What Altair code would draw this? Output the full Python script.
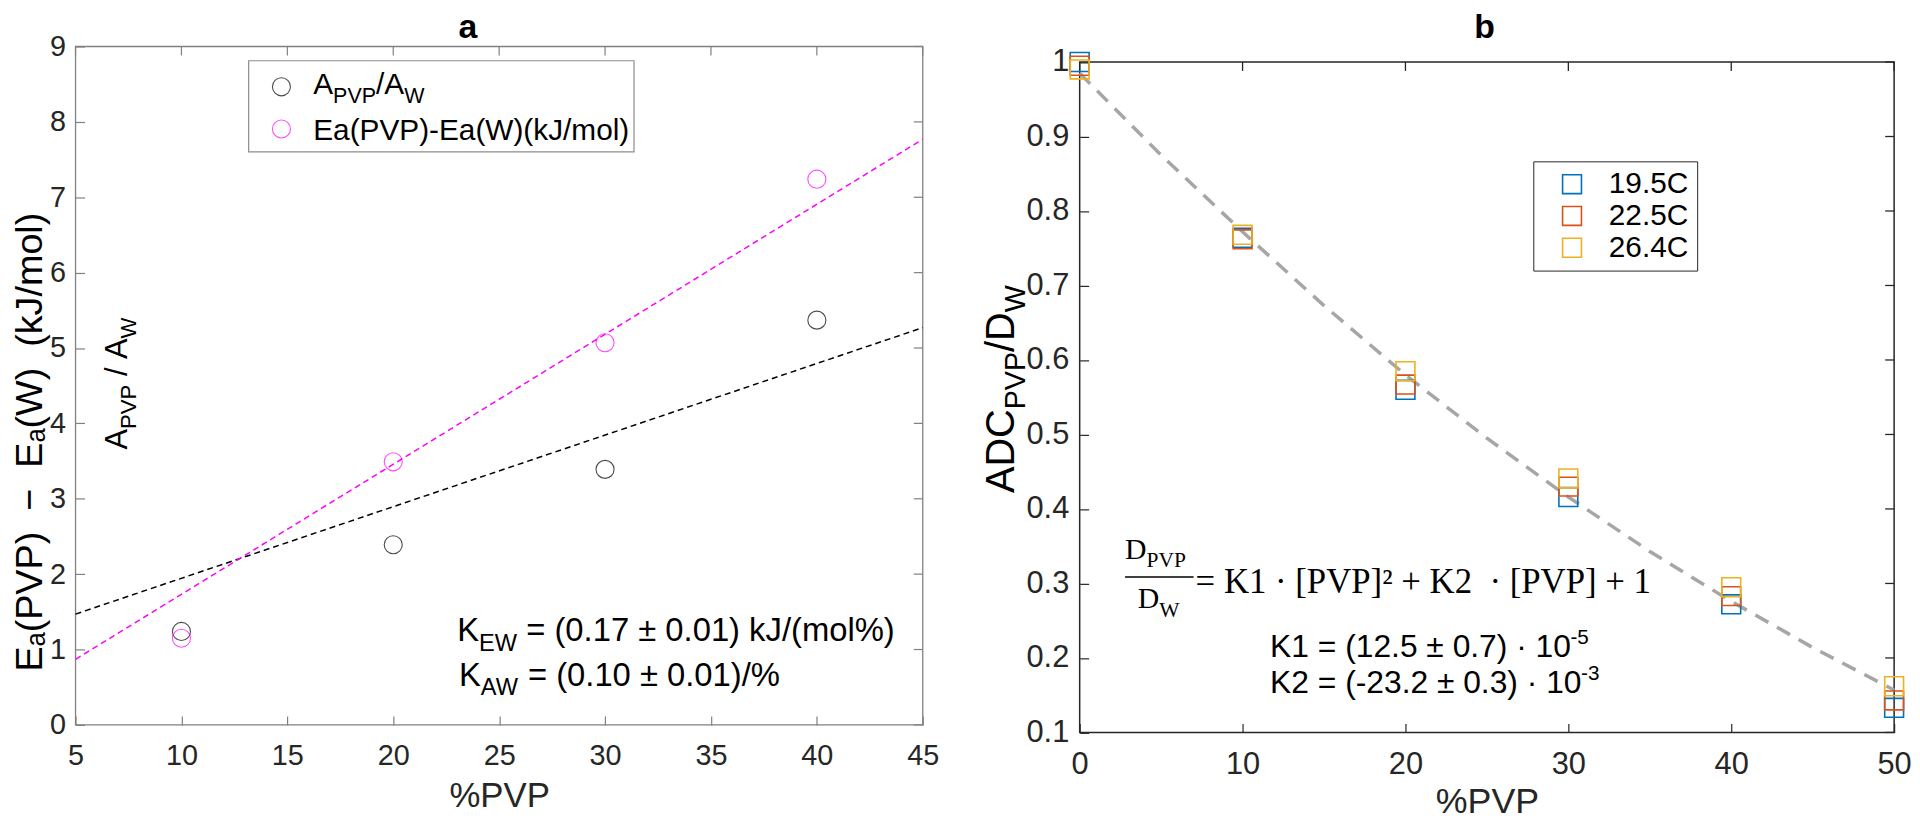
import altair as alt
import pandas as pd

# ---------------- data ----------------
pvp_a = [10, 20, 30, 40]
ratio_aw = [1.24, 2.39, 3.39, 5.37]
delta_ea = [1.15, 3.49, 5.07, 7.24]
fit_x_a = [5, 45]
fit_aw = [1.47, 5.27]
fit_ea = [0.87, 7.77]

pvp_b = [0, 10, 20, 30, 40, 50]
adc_195 = [1.000, 0.764, 0.560, 0.416, 0.272, 0.133]
adc_225 = [0.995, 0.762, 0.567, 0.430, 0.283, 0.143]
adc_264 = [0.990, 0.768, 0.585, 0.441, 0.295, 0.162]
temps = ["19.5C", "22.5C", "26.4C"]
temp_colors = ["#0072BD", "#D95319", "#EDB120"]
curve_x = [0, 5, 10, 15, 20, 25, 30, 35, 40, 45, 50]
curve_y = [0.985, 0.875, 0.772, 0.673, 0.580, 0.495, 0.416, 0.343, 0.276, 0.214, 0.157]

ticks_ax = [5, 10, 15, 20, 25, 30, 35, 40, 45]
ticks_ay = [0, 1, 2, 3, 4, 5, 6, 7, 8, 9]
ticks_bx = [0, 10, 20, 30, 40, 50]
ticks_by = [0.1, 0.2, 0.3, 0.4, 0.5, 0.6, 0.7, 0.8, 0.9, 1.0]

# ---------------- layout / style ----------------
SANS = "Liberation Sans"
SERIF = "Liberation Serif"
PA_W, PA_H = 853, 683
PB_W, PB_TOP, PB_H = 820, 15.6, 690.6
TICK = 9
FRAME_A = "#808080"
FRAME_B = "#262626"
LABEL_C = "#262626"
NBSP = "\u00a0"

HELV = {' ': 278, NBSP: 278, '%': 889, '(': 333, ')': 333, '+': 584, '-': 333, '.': 278,
        '/': 278, '=': 584, '±': 584, '·': 278, '−': 584, 'A': 667, 'C': 722, 'D': 722,
        'E': 667, 'J': 500, 'K': 667, 'P': 667, 'V': 667, 'W': 944, 'a': 556, 'k': 500,
        'l': 222, 'm': 833, 'o': 556}
for d in "0123456789":
    HELV[d] = 556
TIMES = {' ': 250, NBSP: 250, 'D': 722, 'P': 556, 'V': 722, 'W': 944}

ONE = pd.DataFrame({"k": [0]})


def width(s, size, table):
    return sum(table.get(c, 556) for c in s) * size / 1000.0


def rich_text(segments, px, py, size, font=SANS, color="black", angle=0,
              center=False, table=HELV, weight="normal"):
    """Text made of several runs (normal / subscript / superscript)."""
    parts, total = [], 0.0
    for txt, kind in segments:
        if kind == "sub":
            s, dy = size * 0.72, size * 0.28
        elif kind == "sup":
            s, dy = size * 0.65, -size * 0.42
        else:
            s, dy = size, 0
        sp = table[' '] * s / 1000.0
        lead = len(txt) - len(txt.lstrip(' '))
        trail = len(txt) - len(txt.rstrip(' '))
        core = txt.strip(' ').replace(' ', NBSP)
        total += lead * sp
        parts.append((core, total, dy, s))
        total += width(core, s, table) + trail * sp
    start = -total / 2 if center else 0
    out = []
    for txt, off, dy, s in parts:
        out.append(
            alt.Chart(ONE).mark_text(
                text=txt, align="left", baseline="alphabetic", dx=start + off, dy=dy,
                fontSize=s, font=font, color=color, angle=angle, fontWeight=weight
            ).encode(x=alt.value(px), y=alt.value(py))
        )
    return out


def make_axis(vals, fs, tick_color, pad, title=None, title_fs=35, title_pad=8, fmt="~g"):
    kw = dict(values=vals, domain=False, ticks=True, tickSize=TICK, tickColor=tick_color,
              tickWidth=1.2, offset=-TICK, labelFontSize=fs, labelFont=SANS,
              labelColor=LABEL_C, labelPadding=pad, grid=False, labelFlush=False,
              labelOverlap=False, format=fmt)
    if title is not None:
        kw.update(title=title, titleFontSize=title_fs, titleFont=SANS,
                  titleFontWeight="normal", titleColor=LABEL_C, titlePadding=title_pad)
    else:
        kw.update(title=None)
    return alt.Axis(**kw)


# ================= panel a =================
sx_a = alt.Scale(domain=[5, 45], nice=False, zero=False)
sy_a = alt.Scale(domain=[0, 9], nice=False, zero=False)
ax_xa = make_axis(ticks_ax, 29, FRAME_A, 17, title="%PVP", title_fs=35, title_pad=8, fmt="d")
ax_ya = make_axis(ticks_ay, 29, FRAME_A, 10, fmt="d")


def XA(f):
    return alt.X(f, type="quantitative", scale=sx_a, axis=ax_xa)


def YA(f):
    return alt.Y(f, type="quantitative", scale=sy_a, axis=ax_ya)


df_a = pd.DataFrame({"pvp": pvp_a, "aw": ratio_aw, "ea": delta_ea})
df_fit_a = pd.DataFrame({"x": fit_x_a, "aw": fit_aw, "ea": fit_ea})
df_tax = pd.DataFrame({"v": ticks_ax})
df_tay = pd.DataFrame({"v": ticks_ay})

frame_a = alt.Chart(ONE).mark_rect(fillOpacity=0, stroke=FRAME_A, strokeWidth=1.3).encode(
    x=alt.value(0), x2=alt.value(PA_W), y=alt.value(0), y2=alt.value(PA_H))
top_ticks_a = alt.Chart(df_tax).mark_rule(color=FRAME_A, strokeWidth=1.2).encode(
    x=XA("v"), y=alt.value(0), y2=alt.value(TICK))
right_ticks_a = alt.Chart(df_tay).mark_rule(color=FRAME_A, strokeWidth=1.2).encode(
    y=YA("v"), x=alt.value(PA_W - TICK), x2=alt.value(PA_W))
fit_line_aw = alt.Chart(df_fit_a).mark_line(color="black", strokeWidth=1.5,
                                            strokeDash=[6, 4], clip=False).encode(
    x=XA("x"), y=YA("aw"))
fit_line_ea = alt.Chart(df_fit_a).mark_line(color="#ff00ff", strokeWidth=1.5,
                                            strokeDash=[6, 4], clip=False).encode(
    x=XA("x"), y=YA("ea"))
pts_aw = alt.Chart(df_a).mark_point(shape="circle", filled=False, size=330, color="black",
                                    strokeWidth=1.1, clip=False).encode(
    x=XA("pvp"), y=YA("aw"))
pts_ea = alt.Chart(df_a).mark_point(shape="circle", filled=False, size=330, color="#ff00ff",
                                    strokeWidth=1.1, clip=False).encode(
    x=XA("pvp"), y=YA("ea"))

# legend of panel a (custom, because of subscripts)
leg_box = alt.Chart(ONE).mark_rect(fill="white", stroke="#8c8c8c", strokeWidth=1.2).encode(
    x=alt.value(174.3), x2=alt.value(562.3), y=alt.value(14.3), y2=alt.value(106.1))
leg_sym1 = alt.Chart(ONE).mark_point(shape="circle", filled=False, size=330, color="black",
                                     strokeWidth=1.1).encode(x=alt.value(207.3), y=alt.value(40.6))
leg_sym2 = alt.Chart(ONE).mark_point(shape="circle", filled=False, size=330, color="#ff00ff",
                                     strokeWidth=1.1).encode(x=alt.value(207.3), y=alt.value(83))
leg_txt1 = rich_text([("A", "n"), ("PVP", "sub"), ("/A", "n"), ("W", "sub")], 239.3, 48, 30)
leg_txt2 = rich_text([("Ea(PVP)-Ea(W)(kJ/mol)", "n")], 239.3, 94, 30)

kew = rich_text([("K", "n"), ("EW", "sub"), (" = (0.17 ± 0.01) kJ/(mol%)", "n")], 384.3, 599, 33)
kaw = rich_text([("K", "n"), ("AW", "sub"), (" = (0.10 ± 0.01)/%", "n")], 386, 644, 33)

ylabel_a1 = "E\u2090(PVP)  \u2212  E\u2090(W)  (kJ/mol)".replace(" ", NBSP)
ytitle_a1 = alt.Chart(ONE).mark_text(
    text=ylabel_a1, align="center", baseline="alphabetic", angle=270, fontSize=38,
    font=SANS, color="black").encode(x=alt.value(-34), y=alt.value(398.3))
ytitle_a2 = rich_text([("A", "n"), ("PVP", "sub"), (" / A", "n"), ("W", "sub")],
                      52, 339.3, 31, angle=270, center=True)
title_a = rich_text([("a", "n")], 395, -8.7, 34, weight="bold", center=True)

panel_a = alt.layer(
    frame_a, top_ticks_a, right_ticks_a, fit_line_aw, fit_line_ea, pts_aw, pts_ea,
    leg_box, leg_sym1, leg_sym2, *leg_txt1, *leg_txt2, *kew, *kaw, ytitle_a1, *ytitle_a2,
    *title_a
).properties(width=PA_W, height=PA_H)

# ================= panel b =================
sx_b = alt.Scale(domain=[0, 50], nice=False, zero=False)
sy_b = alt.Scale(domain=[0.1, 1.0], range=[PB_H, PB_TOP], nice=False, zero=False)
ax_xb = make_axis(ticks_bx, 31, FRAME_B, 17, title="%PVP", title_fs=36, title_pad=6, fmt="d")
ax_yb = make_axis(ticks_by, 31, FRAME_B, 11, fmt="~g")


def XB(f):
    return alt.X(f, type="quantitative", scale=sx_b, axis=ax_xb)


def YB(f):
    return alt.Y(f, type="quantitative", scale=sy_b, axis=ax_yb)


df_b = pd.concat([pd.DataFrame({"pvp": pvp_b, "adc": vals, "temp": t})
                  for t, vals in zip(temps, [adc_195, adc_225, adc_264])], ignore_index=True)
df_curve = pd.DataFrame({"x": curve_x, "y": curve_y})
df_tbx = pd.DataFrame({"v": ticks_bx})
df_tby = pd.DataFrame({"v": ticks_by})

frame_b = alt.Chart(ONE).mark_rect(fillOpacity=0, stroke=FRAME_B, strokeWidth=1.5).encode(
    x=alt.value(0), x2=alt.value(PB_W), y=alt.value(PB_TOP), y2=alt.value(PB_H))
top_ticks_b = alt.Chart(df_tbx).mark_rule(color=FRAME_B, strokeWidth=1.3).encode(
    x=XB("v"), y=alt.value(PB_TOP), y2=alt.value(PB_TOP + TICK))
right_ticks_b = alt.Chart(df_tby).mark_rule(color=FRAME_B, strokeWidth=1.3).encode(
    y=YB("v"), x=alt.value(PB_W - TICK), x2=alt.value(PB_W))
curve = alt.Chart(df_curve).mark_line(color="#a6a6a6", strokeWidth=3.5, strokeDash=[15, 10],
                                      clip=False).encode(x=XB("x"), y=YB("y"))
pts_b = alt.Chart(df_b).mark_point(shape="square", filled=False, size=361, strokeWidth=1.6,
                                   opacity=1, clip=False).encode(
    x=XB("pvp"), y=YB("adc"),
    color=alt.Color("temp:N", scale=alt.Scale(domain=temps, range=temp_colors),
                    legend=alt.Legend(title=None, orient="none", legendX=456.7, legendY=115.6,
                                      direction="vertical", strokeColor="#262626",
                                      fillColor="white", padding=8, symbolType="square",
                                      symbolSize=361, symbolStrokeWidth=1.6, symbolOffset=16,
                                      labelOffset=22, labelFontSize=30, labelFont=SANS,
                                      labelColor="black", rowPadding=2)),
)

frac_num = rich_text([("D", "n"), ("PVP", "sub")], 45.7, 515.6, 30, font=SERIF, table=TIMES)
frac_den = rich_text([("D", "n"), ("W", "sub")], 58.4, 565.6, 30, font=SERIF, table=TIMES)
frac_bar = alt.Chart(ONE).mark_rule(color="black", strokeWidth=1.5).encode(
    x=alt.value(45.7), x2=alt.value(114.7), y=alt.value(534))
eq_rhs = rich_text([("= K1 · [PVP]² + K2  · [PVP] + 1", "n")], 116.7, 550.6, 35, font=SERIF,
                   table=TIMES)
k1 = rich_text([("K1 = (12.5 ± 0.7) · 10", "n"), ("-5", "sup")], 191.7, 615, 32)
k2 = rich_text([("K2 = (-23.2 ± 0.3) · 10", "n"), ("-3", "sup")], 191.7, 651, 32)

ytitle_b = rich_text([("ADC", "n"), ("PVP", "sub"), ("/D", "n"), ("W", "sub")],
                     -66.3, 345, 40, angle=270, center=True)
title_b = rich_text([("b", "n")], 406.7, -8.7, 34, weight="bold", center=True)

panel_b = alt.layer(
    frame_b, top_ticks_b, right_ticks_b, curve, pts_b, *frac_num, *frac_den, frac_bar,
    *eq_rhs, *k1, *k2, *ytitle_b, *title_b
).properties(width=PB_W, height=PB_H)

chart = alt.hconcat(panel_a, panel_b, spacing=42).resolve_legend(
    color="independent").properties(
    padding={"left": 3, "top": 0, "right": 0, "bottom": 0}).configure_view(strokeWidth=0)

chart.save("out.html", embed_options={"renderer": "svg", "actions": False})
